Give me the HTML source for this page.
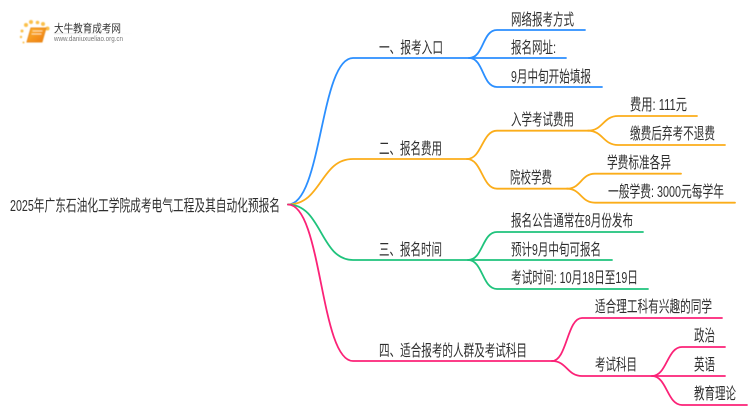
<!DOCTYPE html>
<html><head><meta charset="utf-8">
<style>
html,body{margin:0;padding:0;background:#fff}
svg{display:block}
text{font-family:"Liberation Sans","Noto Sans CJK SC",sans-serif;font-size:16px;fill:#2e2e2e;}
path{fill:none;stroke-width:1.8;stroke-linecap:round}
.b path{stroke:#2b8fff}.o path{stroke:#fbad1a}.g path{stroke:#1fc37c}.p path{stroke:#fb2277}
</style></head>
<body>
<svg width="750" height="410" viewBox="0 0 750 410" xmlns="http://www.w3.org/2000/svg">
<defs>
<filter id="bl" x="-20%" y="-20%" width="140%" height="140%"><feGaussianBlur stdDeviation="0.5"/></filter>
<linearGradient id="bk" x1="0" y1="0" x2="1" y2="1"><stop offset="0" stop-color="#fdb52e"/><stop offset="1" stop-color="#ee7a10"/></linearGradient>
<linearGradient id="ln" x1="0" x2="1" y1="0" y2="0"><stop offset="0" stop-color="#ddd"/><stop offset="1" stop-color="#fff"/></linearGradient>
</defs>
<g filter="url(#bl)">
<g fill="#fbc04a">
<circle cx="26" cy="25" r="2"/><circle cx="31" cy="22" r="2"/><circle cx="37.500" cy="22.500" r="1.800"/>
<circle cx="43" cy="24" r="2"/><circle cx="47.500" cy="28.500" r="2"/><circle cx="22" cy="31" r="1.500"/><circle cx="21" cy="37" r="1.200"/><circle cx="23.500" cy="42.500" r="1"/>
</g>
<path d="M31 28 H46 L42 42 H27 Z" style="fill:url(#bk);stroke:#e98a1a;stroke-width:1"/>
<path d="M33 31 H42 M32 34 H41" style="stroke:#ffe2a8;stroke-width:1"/>
<rect x="54" y="33" width="80" height="1" fill="url(#ln)"/>
</g>
<text x="54" y="32" textLength="67" lengthAdjust="spacingAndGlyphs" style="font-size:11px;fill:#333">大牛教育成考网</text>
<text x="54" y="41" textLength="69" lengthAdjust="spacingAndGlyphs" style="font-size:7px;fill:#777">www.daniuxueliao.org.cn</text>

<g class="b">
<path d="M288 204.500C322 204.500 320 58 353 58H469"/>
<path d="M469 58C484 58 482 30 497 30H585"/>
<path d="M469 58H566"/>
<path d="M469 58C484 58 482 87 497 87H602"/>
</g>
<g class="o">
<path d="M288 204.500C322 204.500 320 159 353 159H467"/>
<path d="M467 159C482 159 482 130.700 497 130.700H588"/>
<path d="M467 159C482 159 482 188.700 497 188.700H567"/>
<path d="M588 130.700C603 130.700 603 116 618 116H697"/>
<path d="M588 130.700C603 130.700 603 145 618 145H725"/>
<path d="M567 188.700C581 188.700 581 173.700 595 173.700H681"/>
<path d="M567 188.700C581 188.700 581 202.700 595 202.700H735"/>
</g>
<g class="g">
<path d="M288 204.500C322 204.500 320 260 353 260H468"/>
<path d="M468 260C483 260 482 232 497 232H643"/>
<path d="M468 260H612"/>
<path d="M468 260C483 260 482 289 497 289H648"/>
</g>
<g class="p">
<path d="M288 204.500C322 204.500 320 361 353 361H552"/>
<path d="M552 361C567 361 567 318 582 318H722"/>
<path d="M552 361C567 361 567 376 582 376H652"/>
<path d="M652 376C667 376 667 347 682 347H725"/>
<path d="M652 376H725"/>
<path d="M652 376C667 376 667 405 682 405H747"/>
</g>

<text x="10" y="211" textLength="270" lengthAdjust="spacingAndGlyphs">2025年广东石油化工学院成考电气工程及其自动化预报名</text>
<text x="379" y="53" textLength="64" lengthAdjust="spacingAndGlyphs">一、报考入口</text>
<text x="379" y="154" textLength="63" lengthAdjust="spacingAndGlyphs">二、报名费用</text>
<text x="379" y="255" textLength="63" lengthAdjust="spacingAndGlyphs">三、报名时间</text>
<text x="379" y="356" textLength="148" lengthAdjust="spacingAndGlyphs">四、适合报考的人群及考试科目</text>

<text x="511" y="25" textLength="63" lengthAdjust="spacingAndGlyphs">网络报考方式</text>
<text x="511" y="53" textLength="45" lengthAdjust="spacingAndGlyphs">报名网址:</text>
<text x="511" y="82" textLength="80" lengthAdjust="spacingAndGlyphs">9月中旬开始填报</text>
<text x="511" y="125" textLength="63" lengthAdjust="spacingAndGlyphs">入学考试费用</text>
<text x="510" y="183" textLength="42" lengthAdjust="spacingAndGlyphs">院校学费</text>
<text x="630" y="110" textLength="57" lengthAdjust="spacingAndGlyphs">费用: 111元</text>
<text x="630" y="139" textLength="85" lengthAdjust="spacingAndGlyphs">缴费后弃考不退费</text>
<text x="607" y="168" textLength="64" lengthAdjust="spacingAndGlyphs">学费标准各异</text>
<text x="608" y="197" textLength="116" lengthAdjust="spacingAndGlyphs">一般学费: 3000元每学年</text>
<text x="511" y="226" textLength="122" lengthAdjust="spacingAndGlyphs">报名公告通常在8月份发布</text>
<text x="511" y="255" textLength="90" lengthAdjust="spacingAndGlyphs">预计9月中旬可报名</text>
<text x="511" y="283" textLength="127" lengthAdjust="spacingAndGlyphs">考试时间: 10月18日至19日</text>
<text x="595" y="312" textLength="117" lengthAdjust="spacingAndGlyphs">适合理工科有兴趣的同学</text>
<text x="595" y="370" textLength="42" lengthAdjust="spacingAndGlyphs">考试科目</text>
<text x="694" y="341" textLength="21" lengthAdjust="spacingAndGlyphs">政治</text>
<text x="694" y="370" textLength="21" lengthAdjust="spacingAndGlyphs">英语</text>
<text x="694" y="399" textLength="42" lengthAdjust="spacingAndGlyphs">教育理论</text>
</svg>
</body></html>
